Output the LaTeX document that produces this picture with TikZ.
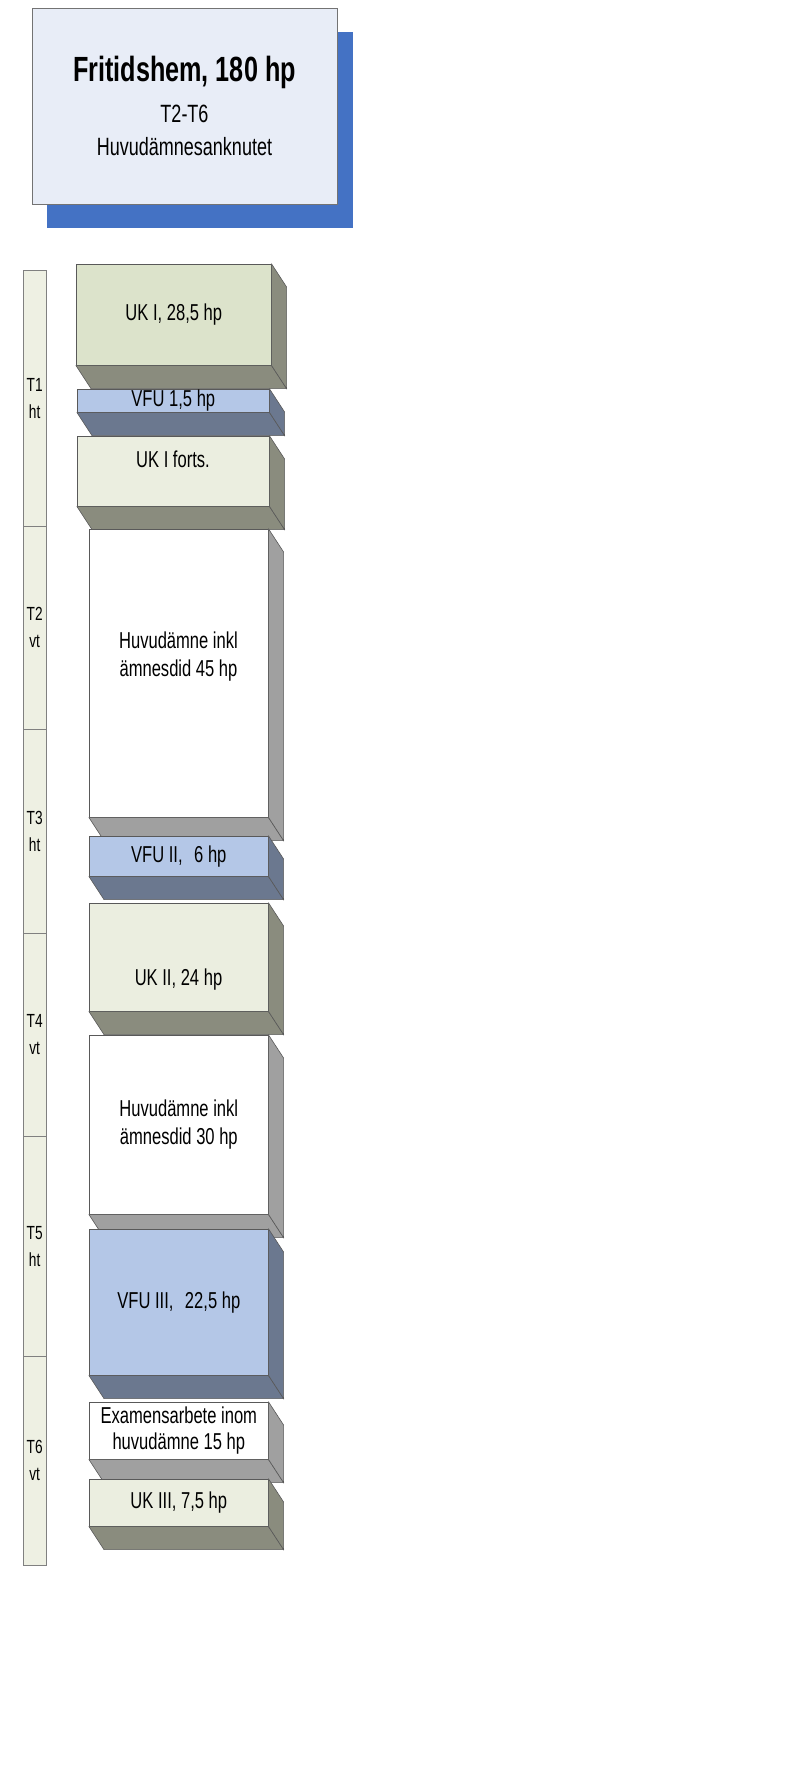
\documentclass[tikz,border=0pt]{standalone}
\usepackage{fontspec}
\setmainfont{Liberation Sans}[FakeStretch=0.72]

\definecolor{ukfront}{HTML}{EBEEE0}
\definecolor{ukfrontA}{HTML}{DCE3CB}
\definecolor{ukside}{HTML}{8A8C7E}
\definecolor{vfufront}{HTML}{B4C7E7}
\definecolor{vfuside}{HTML}{6B788F}
\definecolor{hside}{HTML}{A0A0A0}
\definecolor{titlefill}{HTML}{E8EDF7}
\definecolor{shadowblue}{HTML}{4472C4}
\definecolor{barfill}{HTML}{EEF0E3}

\tikzset{
	face/.style={draw=black!65, line width=0.6pt, inner sep=0pt, anchor=north west, align=center},
	ukface/.style={face, fill=ukfront},
	vfuface/.style={face, fill=vfufront},
	hface/.style={face, fill=white},
	term/.style={draw=black!50, fill=barfill, inner sep=0pt, anchor=north west,
		minimum width=23pt, align=center, font=\fontsize{19}{27}\selectfont},
	blocktext/.style={align=center, inner sep=0pt, font=\fontsize{23}{28}\selectfont}
}

% bottom and right face of a block
\newcommand\blocksides[2]{%
	\filldraw[fill=#2, draw=black!65, line width=0.6pt] (#1.south west) -- ([shift={(15,23)}]#1.south west)
		-- ([shift={(15,23)}]#1.south east) -- (#1.south east) -- cycle;
	\filldraw[fill=#2, draw=black!65, line width=0.6pt] (#1.north east) -- ([shift={(15,23)}]#1.north east)
		-- ([shift={(15,23)}]#1.south east) -- (#1.south east) -- cycle;
}

\begin{document}
\begin{tikzpicture}[x=1pt, y=-1pt]
	\useasboundingbox (0,0) rectangle (799,1772);
%
	\fill[shadowblue] (47,32) rectangle (353,228);
	\node[face, fill=titlefill, draw=black!55, minimum width=305pt, minimum height=196pt] (title) at (32,8) {};
	\node[inner sep=0pt, font=\fontsize{35}{38}\selectfont\bfseries] (titlemain) at (184.5,72) {Fritidshem, 180 hp};
	\node[inner sep=0pt, font=\fontsize{25}{28}\selectfont] (titlesub) at (184.5,114) {T2-T6};
	\node[inner sep=0pt, font=\fontsize{25}{28}\selectfont] (titlekind) at (184.5,147) {Huvudämnesanknutet};
%
	\node[term, minimum height=256pt] (t1) at (23,270) {T1\\ht};
	\node[term, minimum height=203pt] (t2) at (23,526) {T2\\vt};
	\node[term, minimum height=204pt] (t3) at (23,729) {T3\\ht};
	\node[term, minimum height=203pt] (t4) at (23,933) {T4\\vt};
	\node[term, minimum height=220pt] (t5) at (23,1136) {T5\\ht};
	\node[term, minimum height=209pt] (t6) at (23,1356) {T6\\vt};
%
	\node[ukface, fill=ukfrontA, minimum width=195pt, minimum height=101pt] (uk1) at (76,264) {};
	\blocksides{uk1}{ukside}
	\node[vfuface, minimum width=192pt, minimum height=23pt] (vfu1) at (77,389) {};
	\blocksides{vfu1}{vfuside}
	\node[ukface, minimum width=192pt, minimum height=70pt] (uk1f) at (77,436) {};
	\blocksides{uk1f}{ukside}
	\node[hface, minimum width=179pt, minimum height=288pt] (hu45) at (89,529) {};
	\blocksides{hu45}{hside}
	\node[vfuface, minimum width=179pt, minimum height=40pt] (vfu2) at (89,836) {};
	\blocksides{vfu2}{vfuside}
	\node[ukface, minimum width=179pt, minimum height=108pt] (uk2) at (89,903) {};
	\blocksides{uk2}{ukside}
	\node[hface, minimum width=179pt, minimum height=179pt] (hu30) at (89,1035) {};
	\blocksides{hu30}{hside}
	\node[vfuface, minimum width=179pt, minimum height=146pt] (vfu3) at (89,1229) {};
	\blocksides{vfu3}{vfuside}
	\node[hface, minimum width=179pt, minimum height=57pt] (exam) at (89,1402) {};
	\blocksides{exam}{hside}
	\node[ukface, minimum width=179pt, minimum height=47pt] (uk3) at (89,1479) {};
	\blocksides{uk3}{ukside}
%
	\node[blocktext] (uk1txt) at (uk1.center) {UK I, 28,5 hp};
	\node[blocktext] (vfu1txt) at (vfu1.center) {VFU 1,5 hp};
	\node[blocktext] (uk1ftxt) at (173,459) {UK I forts.};
	\node[blocktext] (hu45txt) at (178.5,657) {Huvudämne inkl\\ämnesdid 45 hp};
	\node[blocktext] (vfu2txt) at (vfu2.center) {VFU II,\enspace 6 hp};
	\node[blocktext] (uk2txt) at (178.5,980) {UK II, 24 hp};
	\node[blocktext] (hu30txt) at (hu30.center) {Huvudämne inkl\\ämnesdid 30 hp};
	\node[blocktext] (vfu3txt) at (vfu3.center) {VFU III,\enspace 22,5 hp};
	\node[blocktext, font=\fontsize{23}{26}\selectfont] (examtxt) at (exam.center) {Examensarbete inom\\huvudämne 15 hp};
	\node[blocktext] (uk3txt) at (uk3.center) {UK III, 7,5 hp};
\end{tikzpicture}
\end{document}
